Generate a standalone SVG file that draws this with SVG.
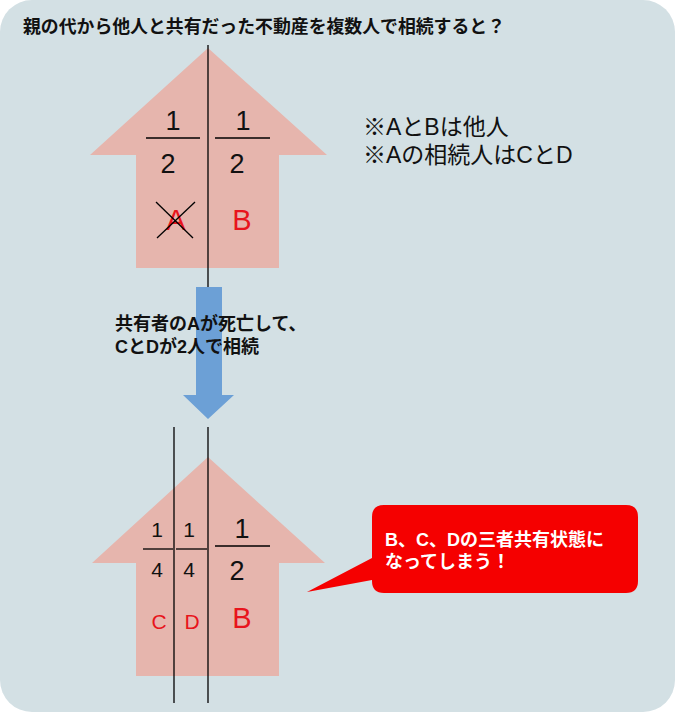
<svg xmlns="http://www.w3.org/2000/svg" width="678" height="717" viewBox="0 0 678 717">
<style>
.bg{fill:#d3e0e4}
.house{fill:#e6b5ad}
.ln{stroke:#000;stroke-width:1.3;fill:none}
.num{font-family:"Liberation Sans",Arial,sans-serif;fill:#111;text-anchor:middle}
.red{font-family:"Liberation Sans",Arial,sans-serif;fill:#e8141c;text-anchor:middle}
.jp{font-family:"Liberation Sans","Noto Sans CJK JP",sans-serif}
.bold{font-weight:bold}
</style>
<rect class="bg" x="0" y="0" width="675" height="712" rx="32" ry="32"/>
<text class="jp bold" x="23" y="33" font-size="18" fill="#111" textLength="482" lengthAdjust="spacingAndGlyphs">親の代から他人と共有だった不動産を複数人で相続すると？</text>

<g id="house-top">
<polygon class="house" points="208,48 327,155 279,155 279,268 136,268 136,155 90,155"/>
<line class="ln" x1="146" y1="138" x2="200" y2="138"/>
<line class="ln" x1="215" y1="138" x2="270" y2="138"/>
<text class="num" x="173" y="130" font-size="27">1</text>
<text class="num" x="243" y="130" font-size="27">1</text>
<text class="num" x="168" y="173" font-size="27">2</text>
<text class="num" x="237" y="173" font-size="27">2</text>
<text class="red" x="176" y="230" font-size="29">A</text>
<text class="red" x="242" y="230" font-size="29">B</text>
<line class="ln" x1="156" y1="202" x2="193" y2="238" stroke-width="1"/>
<line class="ln" x1="195" y1="202" x2="157" y2="238" stroke-width="1"/>
</g>

<g id="notes">
<text class="jp" x="363" y="135" font-size="23" fill="#111">※AとBは他人</text>
<text class="jp" x="363" y="163" font-size="23" fill="#111">※Aの相続人はCとD</text>
</g>

<g id="arrow">
<polygon fill="#6ca0d6" points="196,287 222,287 222,395 234,395 208,419 183,395 196,395"/>
<text class="jp bold" font-size="18" fill="#111"><tspan x="115" y="330">共有者のAが死亡して、</tspan><tspan x="115" y="353">CとDが2人で相続</tspan></text>
</g>

<g id="house-bottom">
<polygon class="house" points="208,457 325,563 279,563 279,676 136,676 136,563 92,563"/>
<line class="ln" x1="143" y1="549" x2="173" y2="549"/>
<line class="ln" x1="176" y1="549" x2="207" y2="549"/>
<line class="ln" x1="215" y1="546" x2="270" y2="546"/>
<text class="num" x="157" y="537" font-size="21">1</text>
<text class="num" x="189" y="537" font-size="21">1</text>
<text class="num" x="242" y="538" font-size="27">1</text>
<text class="num" x="157" y="577" font-size="21">4</text>
<text class="num" x="189" y="577" font-size="21">4</text>
<text class="num" x="237" y="580" font-size="27">2</text>
<text class="red" x="159" y="629" font-size="21">C</text>
<text class="red" x="192" y="629" font-size="21">D</text>
<text class="red" x="242" y="628" font-size="29">B</text>
</g>

<g id="connectors">
<line class="ln" x1="208" y1="45" x2="208" y2="287"/>
<line class="ln" x1="174" y1="427" x2="174" y2="703"/>
<line class="ln" x1="208" y1="427" x2="208" y2="703"/>
</g>

<g id="callout">
<path fill="#f50000" d="M384,505 H626 Q638,505 638,517 V581 Q638,593 626,593 H384 Q372,593 372,581 V580 L307,592 L372,558 V517 Q372,505 384,505 Z"/>
<text class="jp bold" font-size="18" fill="#fff"><tspan x="385" y="546">B、C、Dの三者共有状態に</tspan><tspan x="385" y="568">なってしまう！</tspan></text>
</g>
</svg>
